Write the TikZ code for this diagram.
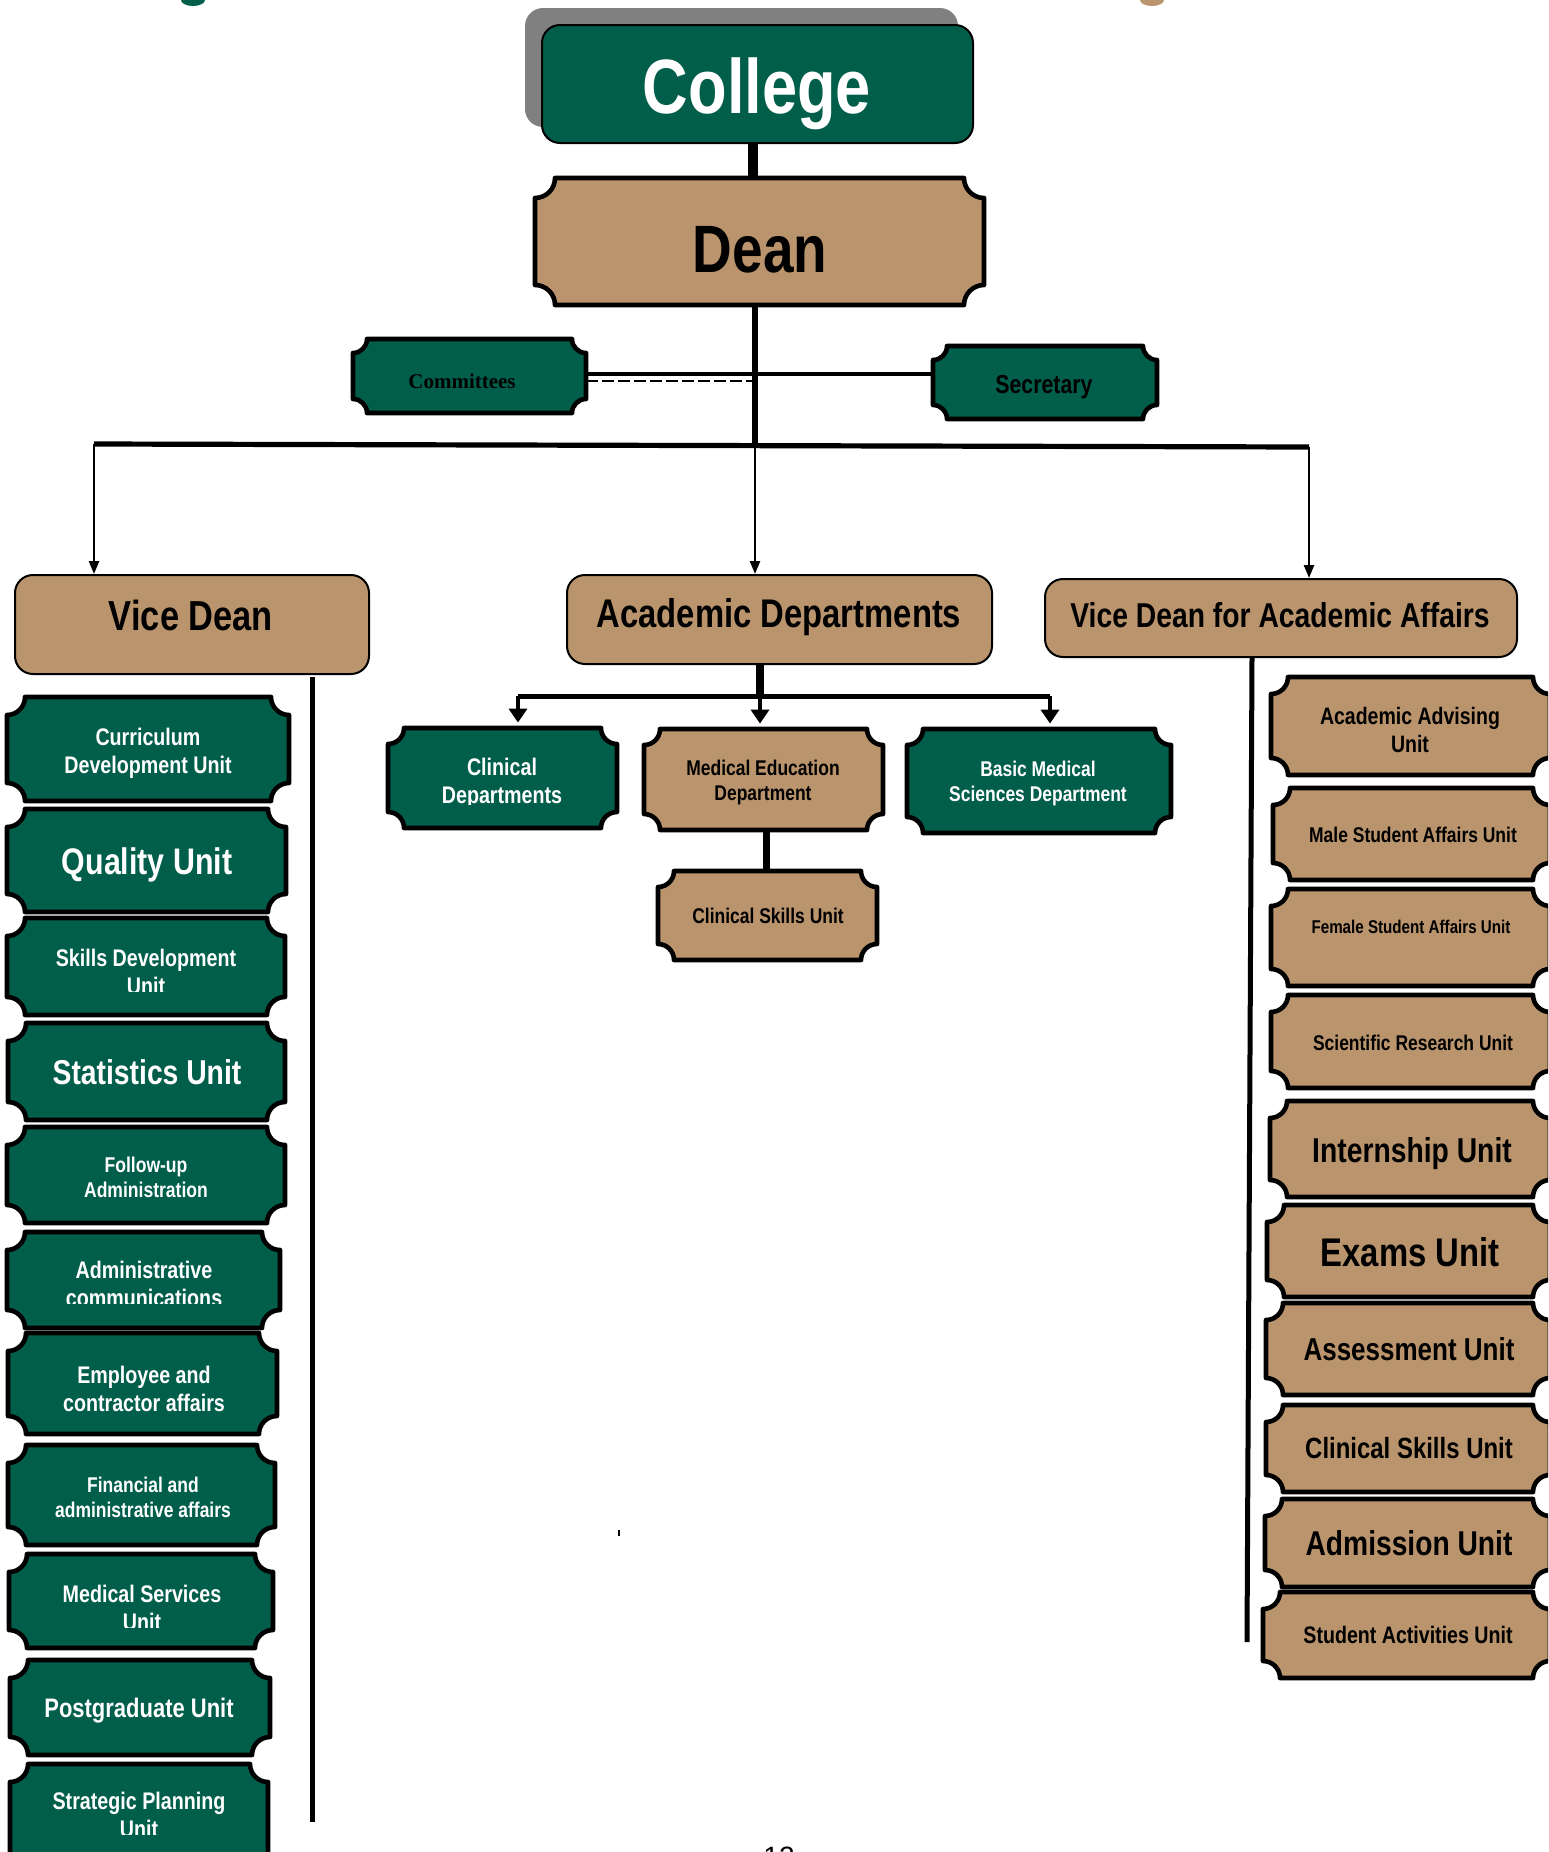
\documentclass[tikz,border=0pt]{standalone}
\usepackage{fontspec}
\usetikzlibrary{fit,arrows.meta}
\newfontfamily\nar{Liberation Sans}[FakeStretch=0.82]
\newfontfamily\tms{Liberation Serif}
\newfontfamily\reg{Liberation Sans}
\definecolor{grn}{RGB}{0,94,75}
\definecolor{tanc}{RGB}{186,148,108}
\definecolor{shd}{RGB}{128,128,128}
\newcommand\fsz[1]{\fontsize{\fpeval{#1/2}pt}{\fpeval{#1*0.575}pt}\selectfont}
% plaque: name, fill, x1, y1, x2, y2, radius  (pixel coordinates, y down)
\newcommand\plq[7]{%
 \path[plaque, fill=#2] ({#3+#7},#4) -- ({#5-#7},#4)
   .. controls ({#5-#7},{#4+0.552*#7}) and ({#5-0.552*#7},{#4+#7}) .. (#5,{#4+#7})
   -- (#5,{#6-#7})
   .. controls ({#5-0.552*#7},{#6-#7}) and ({#5-#7},{#6-0.552*#7}) .. ({#5-#7},#6)
   -- ({#3+#7},#6)
   .. controls ({#3+#7},{#6-0.552*#7}) and ({#3+0.552*#7},{#6-#7}) .. (#3,{#6-#7})
   -- (#3,{#4+#7})
   .. controls ({#3+0.552*#7},{#4+#7}) and ({#3+#7},{#4+0.552*#7}) .. ({#3+#7},#4) -- cycle;
 \node[boxnode, fit={(#3,#4) (#5,#6)}] (#1) {};}
\tikzset{
  plaque/.style={draw=black, line width=2.3pt, line join=round},
  boxnode/.style={inner sep=0pt, draw=none},
  rbox/.style={inner sep=0pt, draw=black, line width=1pt, rounded corners=9pt},
  tx/.style 2 args={font=\nar\bfseries\fsz{#1}, text=#2, align=center, inner sep=0pt, anchor=base},
  arr/.style={line width=1.2pt, -{Triangle[width=5pt,length=6.5pt]}},
  arrb/.style={line width=2pt, -{Triangle[width=9pt,length=7pt]}, shorten >=2.5pt},
}
\begin{document}
\begin{tikzpicture}[x=0.5pt,y=-0.5pt]
\useasboundingbox (0,0) rectangle (1548,1852);
\clip (0,0) rectangle (1548,1852);

% remnants at the top edge
\fill[grn] (193,0) ellipse [x radius=12, y radius=6];
\fill[tanc] (1152,0) ellipse [x radius=12, y radius=6];

% ---------------- top ----------------
\fill[shd, rounded corners=9pt] (525,8) rectangle (958,127);
\node[rbox, fill=grn, fit={(542,25) (973,143)}] (College) {};
\node[tx={77}{white}] (Colleget) at (757,113) {College};

\plq{Dean}{tanc}{535}{178}{984}{305}{20}
\node[tx={67}{black}] (Deant) at (760,272) {Dean};

\plq{Com}{grn}{353}{339}{586}{413}{14}
\node[font=\tms\bfseries\fsz{21}, text=black, inner sep=0pt, anchor=base] (Comt) at (462,388) {Committees};
\plq{Sec}{grn}{933}{346}{1157}{419}{14}
\node[tx={26}{black}] (Sect) at (1044,393) {Secretary};

% connectors top
\coordinate (cdx) at (753,160);
\draw[line width=5pt] (College.south -| cdx) -- (Dean.north -| cdx);
\coordinate (trunk) at (755,445.5);
\draw[line width=2.6pt] (trunk |- Dean.south) -- (trunk);
\coordinate (rowS) at (0,374);
\coordinate (rowD) at (0,381);
\draw[line width=1.8pt] (Com.east |- rowS) -- (Sec.west |- rowS);
\draw[line width=1.3pt, dash pattern=on 6pt off 2pt] (Com.east |- rowD) -- (trunk |- rowD);

% main bar
\coordinate (barL) at (94,444);
\coordinate (barR) at (1309,447);
\draw[line width=2.6pt] (barL) -- (barR);

% ---------------- second row ----------------
\node[rbox, fill=tanc, fit={(15,575) (369,674)}] (VD) {};
\node[tx={42}{black}] (VDt) at (191,630) {Vice Dean};
\node[rbox, fill=tanc, fit={(567,575) (992,664)}] (AD) {};
\node[tx={40}{black}] (ADt) at (779,627) {Academic Departments};
\node[rbox, fill=tanc, fit={(1045,579) (1517,657)}] (VDA) {};
\node[tx={34.5}{black}] (VDAt) at (1280,627) {Vice Dean for Academic Affairs};

\draw[arr] (barL) -- (barL |- VD.north);
\draw[arr] (barR) -- (barR |- VDA.north);
\draw[arr] (trunk) -- (trunk |- AD.north);

% ---------------- academic departments ----------------
\plq{CD}{grn}{388}{728}{617}{828}{16}
\begin{scope}
\clip (388,740) rectangle (617,804);
\node[tx={24}{white}] (CDt) at (502,803) {Clinical\\Departments};
\end{scope}
\plq{MED}{tanc}{644}{729}{883}{830}{16}
\node[tx={21.3}{black}] (MEDt) at (763,800) {Medical Education\\Department};
\plq{BMS}{grn}{907}{729}{1171}{833}{16}
\node[tx={21.3}{white}] (BMSt) at (1038,801) {Basic Medical\\Sciences Department};
\plq{CSU}{tanc}{658}{871}{877}{960}{16}
\node[tx={21.3}{black}] (CSUt) at (768,923) {Clinical Skills Unit};

\coordinate (sb) at (760,696);
\coordinate (sbL) at (518,696);
\coordinate (sbR) at (1050,696);
\draw[line width=4pt] (sb |- AD.south) -- (sb);
\draw[line width=2.5pt] (sbL) -- (sbR);
\draw[arrb] (sbL) -- (sbL |- CD.north);
\draw[arrb] (sb) -- (sb |- MED.north);
\draw[arrb] (sbR) -- (sbR |- BMS.north);
\coordinate (mx) at (766,850);
\draw[line width=3.5pt] (MED.south -| mx) -- (CSU.north -| mx);

% ---------------- left column ----------------
\coordinate (lvTop) at (312,677);
\coordinate (lvEnd) at (312,1822);
\draw[line width=2.5pt] (lvTop) -- (lvEnd);

\plq{L1}{grn}{7}{697}{289}{801}{18}
\node[tx={24}{white}] (L1t) at (148,773) {Curriculum\\Development Unit};
\plq{L2}{grn}{7}{809}{286}{912}{18}
\node[tx={37}{white}] (L2t) at (147,874) {Quality Unit};
\plq{L3}{grn}{7}{918}{285}{1015}{18}
\begin{scope}
\clip (7,925) rectangle (285,991);
\node[tx={24}{white}] (L3t) at (146,994) {Skills Development\\Unit};
\end{scope}
\plq{L4}{grn}{8}{1023}{285}{1120}{18}
\node[tx={34.5}{white}] (L4t) at (147,1084) {Statistics Unit};
\plq{L5}{grn}{7}{1127}{285}{1223}{18}
\node[tx={21.4}{white}] (L5t) at (146,1197) {Follow-up\\Administration};
\plq{L6}{grn}{7}{1232}{280}{1328}{18}
\begin{scope}
\clip (7,1240) rectangle (280,1303);
\node[tx={24}{white}] (L6t) at (144,1306) {Administrative\\communications};
\end{scope}
\plq{L7}{grn}{8}{1333}{277}{1434}{18}
\node[tx={24}{white}] (L7t) at (144,1411) {Employee and\\contractor affairs};
\plq{L8}{grn}{8}{1445}{275}{1545}{18}
\node[tx={21.3}{white}] (L8t) at (143,1517) {Financial and\\administrative affairs};
\plq{L9}{grn}{9}{1554}{273}{1648}{18}
\begin{scope}
\clip (9,1560) rectangle (273,1627);
\node[tx={24}{white}] (L9t) at (142,1630) {Medical Services\\Unit};
\end{scope}
\plq{L10}{grn}{10}{1660}{270}{1755}{18}
\node[tx={26.8}{white}] (L10t) at (139,1717) {Postgraduate Unit};
\plq{L11}{grn}{10}{1764}{268}{1880}{18}
\begin{scope}
\clip (10,1770) rectangle (268,1834);
\node[tx={24}{white}] (L11t) at (139,1837) {Strategic Planning\\Unit};
\end{scope}

% ---------------- right column ----------------
\coordinate (rvTop) at (1252,658);
\coordinate (rvEnd) at (1247,1642);
\draw[line width=2.5pt] (rvTop) -- (rvEnd);

\plq{R1}{tanc}{1271}{677}{1550}{775}{17}
\node[tx={23.8}{black}] (R1t) at (1410,752) {Academic Advising\\Unit};
\plq{R2}{tanc}{1273}{788}{1550}{880}{17}
\node[tx={21.3}{black}] (R2t) at (1413,842) {Male Student Affairs Unit};
\plq{R3}{tanc}{1271}{889}{1550}{986}{17}
\node[tx={18.5}{black}] (R3t) at (1411,933) {Female Student Affairs Unit};
\plq{R4}{tanc}{1271}{995}{1550}{1088}{17}
\node[tx={21.3}{black}] (R4t) at (1413,1050) {Scientific Research Unit};
\plq{R5}{tanc}{1270}{1101}{1550}{1197}{17}
\node[tx={34.5}{black}] (R5t) at (1412,1162) {Internship Unit};
\plq{R6}{tanc}{1267}{1205}{1550}{1297}{17}
\node[tx={40}{black}] (R6t) at (1410,1266) {Exams Unit};
\plq{R7}{tanc}{1266}{1303}{1550}{1395}{17}
\node[tx={31.7}{black}] (R7t) at (1409,1360) {Assessment Unit};
\plq{R8}{tanc}{1266}{1405}{1550}{1492}{17}
\node[tx={29.2}{black}] (R8t) at (1409,1458) {Clinical Skills Unit};
\plq{R9}{tanc}{1265}{1499}{1550}{1587}{17}
\node[tx={34.4}{black}] (R9t) at (1409,1555) {Admission Unit};
\plq{R10}{tanc}{1263}{1592}{1550}{1678}{17}
\node[tx={23.9}{black}] (R10t) at (1408,1643) {Student Activities Unit};

% stray mark and page number
\draw[line width=0.8pt] (619,1530) -- (619,1536);
\node[font=\reg\fsz{28}, inner sep=0pt, anchor=base] (pg) at (779,1866) {12};
\end{tikzpicture}
\end{document}
